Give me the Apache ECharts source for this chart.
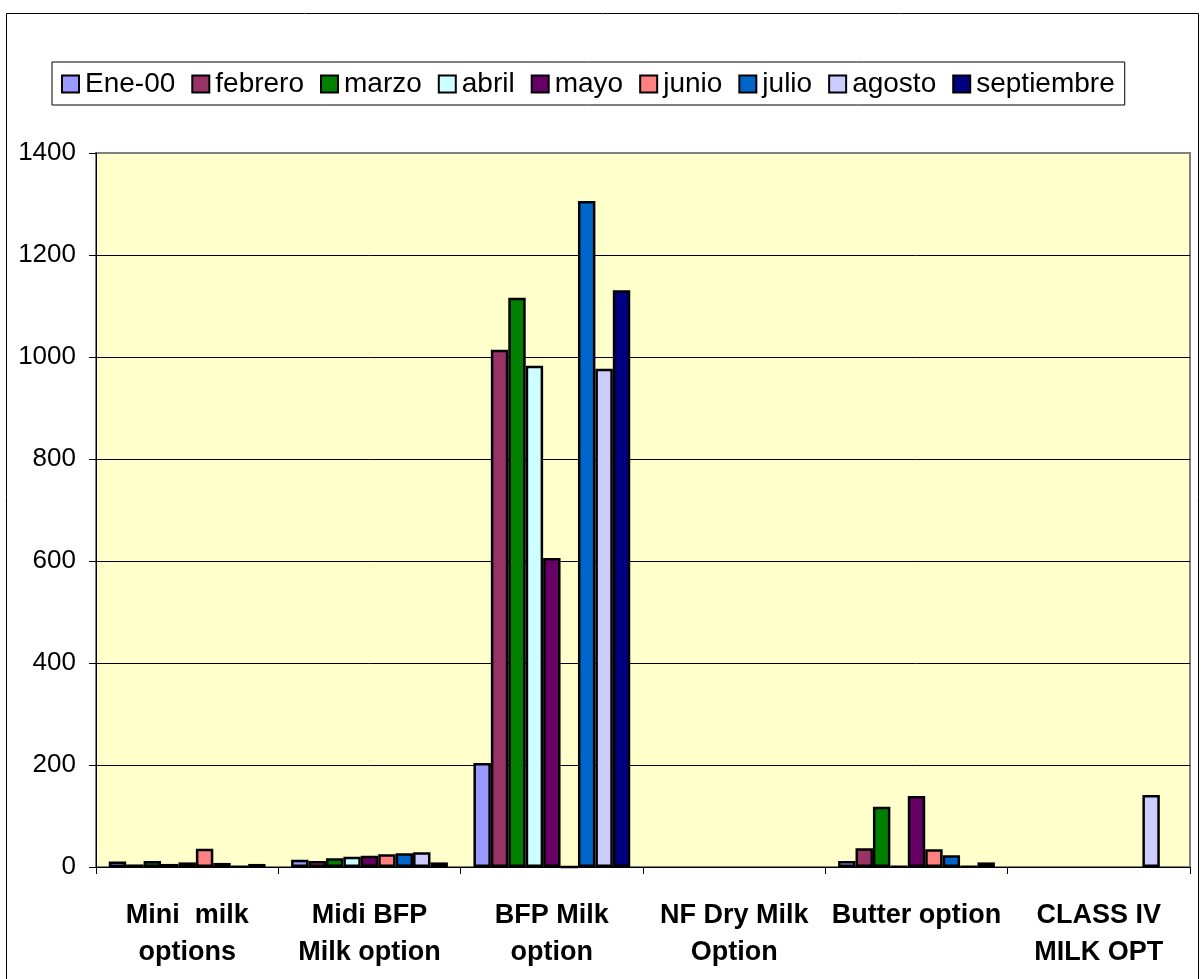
<!DOCTYPE html>
<html>
<head>
<meta charset="utf-8">
<script src="https://cdn.jsdelivr.net/npm/echarts@6/dist/echarts.min.js"></script>
<style>
  html, body { margin: 0; padding: 0; background: #fff; }
  #chart { width: 1201px; height: 979px; }
</style>
</head>
<body>
<div id="chart"></div>
<script>
// categorias del eje x
const categories = [
  "Mini  milk\noptions",
  "Midi BFP\nMilk option",
  "BFP Milk\noption",
  "NF Dry Milk\nOption",
  "Butter option",
  "CLASS IV\nMILK OPT"
];
const months = ["Ene-00", "febrero", "marzo", "abril", "mayo", "junio", "julio", "agosto", "septiembre"];
const colors = ["#9999FF", "#993366", "#008000", "#CCFFFF", "#660066", "#FF8080", "#0066CC", "#CCCCFF", "#000080"];

// valores por mes (uno por categoria)
const ene00 = [11, 14, 204, null, 12, null];
const febrero = [5, 12, 1014, null, 37, null];
const marzo = [12, 17, 1116, null, 118, null];
const abril = [6, 20, 983, null, 1, null];
const mayo = [9, 22, 606, null, 139, null];
const junio = [36, 25, 0, null, 35, null];
const julio = [8, 27, 1306, null, 23, null];
const agosto = [1, 29, 977, null, 1, 141];
const septiembre = [6, 9, 1131, null, 9, null];
const seriesData = [ene00, febrero, marzo, abril, mayo, junio, julio, agosto, septiembre];

const yTicks = { min: 0, max: 1400, interval: 200 };

const chart = echarts.init(document.getElementById("chart"));
const font = "Arial, 'Liberation Sans', sans-serif";

chart.setOption({
  animation: false,
  textStyle: { fontFamily: font },
  graphic: [
    {
      type: "rect",
      shape: { x: 6.5, y: 13.5, width: 1192, height: 1000 },
      style: { fill: "none", stroke: "#000", lineWidth: 1 },
      z: -10
    }
  ],
  legend: {
    left: 52,
    top: 62,
    padding: [8, 10, 7, 9],
    borderColor: "#000",
    borderWidth: 1,
    itemWidth: 17,
    itemHeight: 17,
    itemGap: 16,
    icon: "rect",
    textStyle: { fontSize: 28, color: "#000", fontFamily: font, padding: [0, 0, 0, 1] },
    data: months
  },
  grid: {
    left: 96,
    top: 153,
    right: 11,
    bottom: 112,
    show: true,
    backgroundColor: "#FFFFCC",
    borderColor: "#808080",
    borderWidth: 2
  },
  xAxis: {
    type: "category",
    data: categories,
    axisLine: { lineStyle: { color: "#000", width: 1 } },
    axisTick: { show: true, length: 7, lineStyle: { color: "#000" } },
    axisLabel: {
      interval: 0,
      color: "#000",
      fontSize: 27,
      fontWeight: "bold",
      fontFamily: font,
      lineHeight: 37,
      margin: 30
    }
  },
  yAxis: {
    type: "value",
    min: yTicks.min,
    max: yTicks.max,
    interval: yTicks.interval,
    axisLine: { show: true, lineStyle: { color: "#000", width: 1 } },
    axisTick: { show: true, length: 7, lineStyle: { color: "#000" } },
    axisLabel: { color: "#000", fontSize: 26, fontFamily: font, margin: 20, formatter: function (v) { return String(v); } },
    splitLine: { showMaxLine: false, lineStyle: { color: "#000", width: 1 } }
  },
  series: months.map(function (m, i) {
    return {
      name: m,
      type: "bar",
      data: seriesData[i],
      barGap: "0%",
      barCategoryGap: "14%",
      itemStyle: { color: colors[i], borderColor: "#000", borderWidth: 2.5 }
    };
  })
});
</script>
</body>
</html>
